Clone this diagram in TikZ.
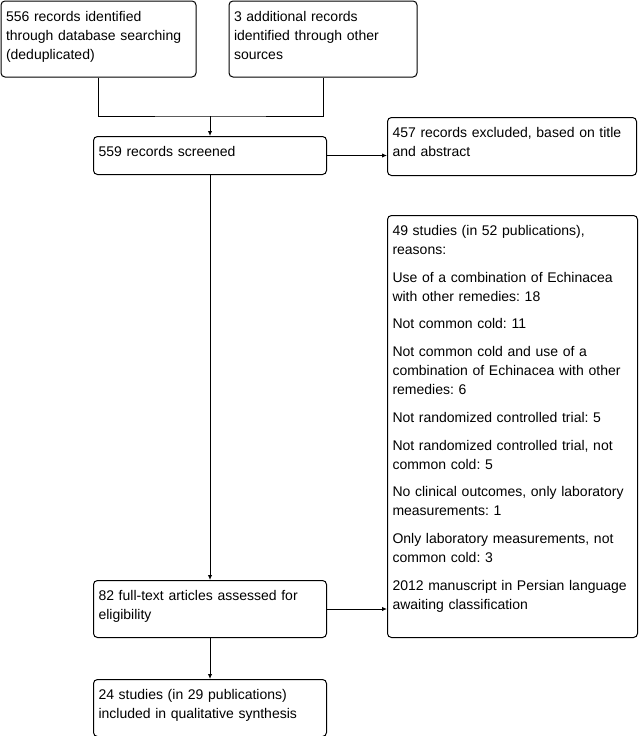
\documentclass[tikz,border=0pt]{standalone}
\usepackage{fontspec}
\setmainfont{Liberation Sans}
\usetikzlibrary{positioning,arrows.meta}
\frenchspacing

\begin{document}
\begin{tikzpicture}[
x=1pt, y=-1pt,
node distance=40pt,
every node/.style={draw, rounded corners=4pt, anchor=north west, align=left, line width=1pt,
  inner xsep=5pt, inner ysep=4pt, text height=16pt, font=\fontsize{14}{19}\selectfont},
>={Latex[length=5pt,width=4.5pt]},
line width=1pt
]

\useasboundingbox (0,0) rectangle (638,736);

%-------------------------
% Cajas
%-------------------------

\node[text width=185pt, text depth=52pt] (db) at (0.5,0.5)
{556 records identified\\through database searching\\(deduplicated)};
\node[text width=178pt, text depth=52pt] (other) [right=32pt of db]
{3 additional records\\identified through other\\sources};

\node[text width=223pt, text depth=14pt] (screened) at (93,136) {559 records screened};
\node[text width=239pt, text depth=34pt] (excluded) at (387,117)
{457 records excluded, based on title\\and abstract};

\node[text width=240pt, text depth=398pt] (reasons) at (387,215)
{49 studies (in 52 publications),\\reasons:\\[8.7pt]
Use of a combination of Echinacea\\with other remedies: 18\\[8.7pt]
Not common cold: 11\\[8.7pt]
Not common cold and use of a\\combination of Echinacea with other\\remedies: 6\\[8.7pt]
Not randomized controlled trial: 5\\[8.7pt]
Not randomized controlled trial, not\\common cold: 5\\[8.7pt]
No clinical outcomes, only laboratory\\measurements: 1\\[8.7pt]
Only laboratory measurements, not\\common cold: 3\\[8.7pt]
2012 manuscript in Persian language\\awaiting classification};

\node[text width=223pt, text depth=33pt] (fulltext) at (93,580)
{82 full-text articles assessed for\\eligibility};
\node[text width=223pt, text depth=33pt] (included) [below=41pt of fulltext.south west, anchor=north west]
{24 studies (in 29 publications)\\included in qualitative synthesis};

\coordinate (merge) at ([yshift=20pt]screened.north);

%-------------------------
% Flechas
%-------------------------

\draw (db.south) |- (merge) -| (other.south);
\draw[->] (merge) -- (screened);

\draw[->] (screened.east) -- (screened.east -| excluded.west);
\draw[->] (screened) -- (fulltext);

\draw[->] (fulltext.east) -- (fulltext.east -| reasons.west);
\draw[->] (fulltext) -- (included);

\end{tikzpicture}
\end{document}
